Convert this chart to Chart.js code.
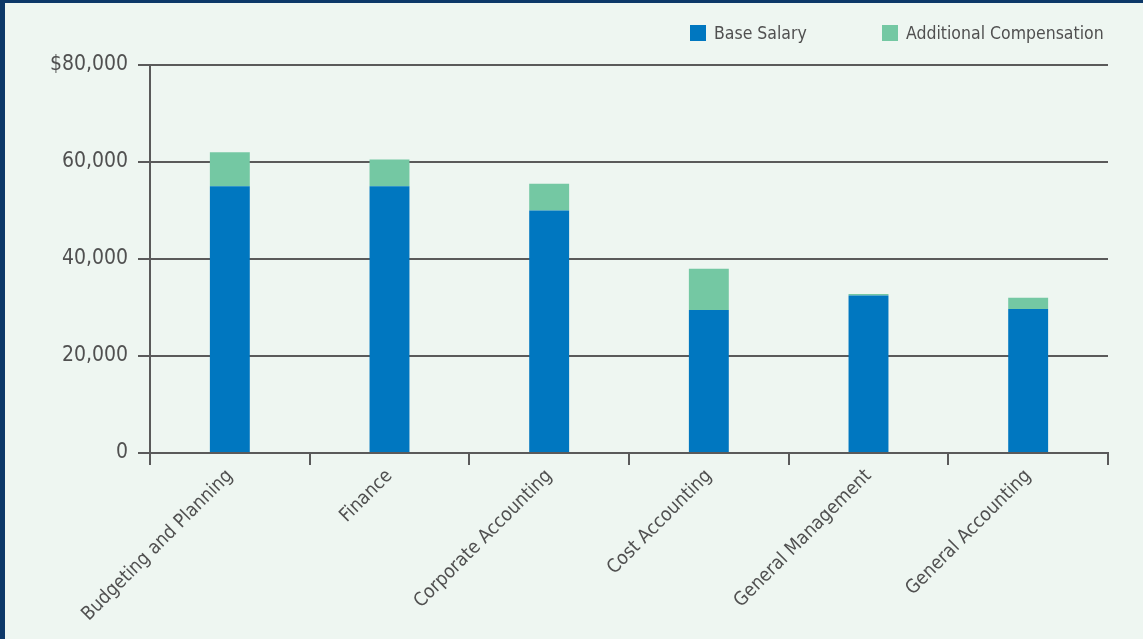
<!DOCTYPE html>
<html>
<head>
<meta charset="utf-8">
<script src="https://cdn.jsdelivr.net/npm/chart.js@4"></script>
<style>
  html, body { margin: 0; padding: 0; background: #eef6f1; }
  #frame {
    position: absolute; left: 0; top: 0;
    width: 1138px; height: 636px;
    border-left: 5px solid #0c3868;
    border-top: 3px solid #0c3868;
    background: #eef6f1;
  }
  canvas { display: block; }
</style>
</head>
<body>
<div id="frame"><canvas id="chart" width="1138" height="636"></canvas></div>
<script>
const categories = [
  "Budgeting and Planning",
  "Finance",
  "Corporate Accounting",
  "Cost Accounting",
  "General Management",
  "General Accounting",
]
const baseSalary = [55000, 55000, 50000, 29500, 32500, 29700]
const additionalComp = [7000, 5500, 5500, 8500, 300, 2300]
const yTicks = [0, 20000, 40000, 60000, 80000]

const BLUE = "#0077c0"
const GREEN = "#74c8a3"
const TEXT = "#505050"
const LINE = "#5a5a5a"
const FONT = "'Liberation Sans Narrow', 'DejaVu Sans Condensed', sans-serif"

const formatTick = (value) => {
  const s = value.toLocaleString("en-US")
  return value === yTicks[yTicks.length - 1] ? `$${s}` : s
}

// legend drawn in the top right corner, spaced like the original
const cornerLegend = {
  id: "cornerLegend",
  afterDraw(chart) {
    const ctx = chart.ctx
    const slots = [685, 877]
    ctx.save()
    ctx.font = `17.5px ${FONT}`
    ctx.textBaseline = "middle"
    ctx.textAlign = "left"
    chart.data.datasets.forEach((ds, i) => {
      const x = slots[i]
      ctx.fillStyle = ds.backgroundColor
      ctx.fillRect(x, 22, 16, 16)
      ctx.fillStyle = TEXT
      ctx.fillText(ds.label, x + 24, 31)
    })
    ctx.restore()
  },
}

new Chart(document.getElementById("chart"), {
  type: "bar",
  data: {
    labels: categories,
    datasets: [
      {
        label: "Base Salary",
        data: baseSalary,
        backgroundColor: BLUE,
        barPercentage: 0.25,
        categoryPercentage: 1,
      },
      {
        label: "Additional Compensation",
        data: additionalComp,
        backgroundColor: GREEN,
        barPercentage: 0.25,
        categoryPercentage: 1,
      },
    ],
  },
  options: {
    animation: false,
    responsive: false,
    layout: { padding: { top: 62, right: 35, left: 0, bottom: 0 } },
    plugins: {
      legend: { display: false },
      tooltip: { enabled: false },
    },
    scales: {
      x: {
        stacked: true,
        afterFit: (scale) => { scale.height = 186 },
        grid: {
          display: true,
          drawOnChartArea: false,
          drawTicks: true,
          tickLength: 12,
          color: LINE,
          lineWidth: 2,
        },
        border: { display: true, color: LINE, width: 2 },
        ticks: {
          color: TEXT,
          font: { family: FONT, size: 19 },
          minRotation: 45,
          maxRotation: 45,
          padding: 0,
        },
      },
      y: {
        stacked: true,
        min: 0,
        max: 80000,
        afterFit: (scale) => { scale.width = 145 },
        afterBuildTicks: (scale) => {
          scale.ticks = yTicks.map((v) => ({ value: v }))
        },
        grid: {
          color: LINE,
          lineWidth: 2,
          tickLength: 12,
        },
        border: { display: true, color: LINE, width: 2 },
        ticks: {
          color: TEXT,
          font: { family: FONT, size: 21 },
          padding: 10,
          callback: (value) => formatTick(value),
        },
      },
    },
  },
  plugins: [cornerLegend],
})
</script>
</body>
</html>
